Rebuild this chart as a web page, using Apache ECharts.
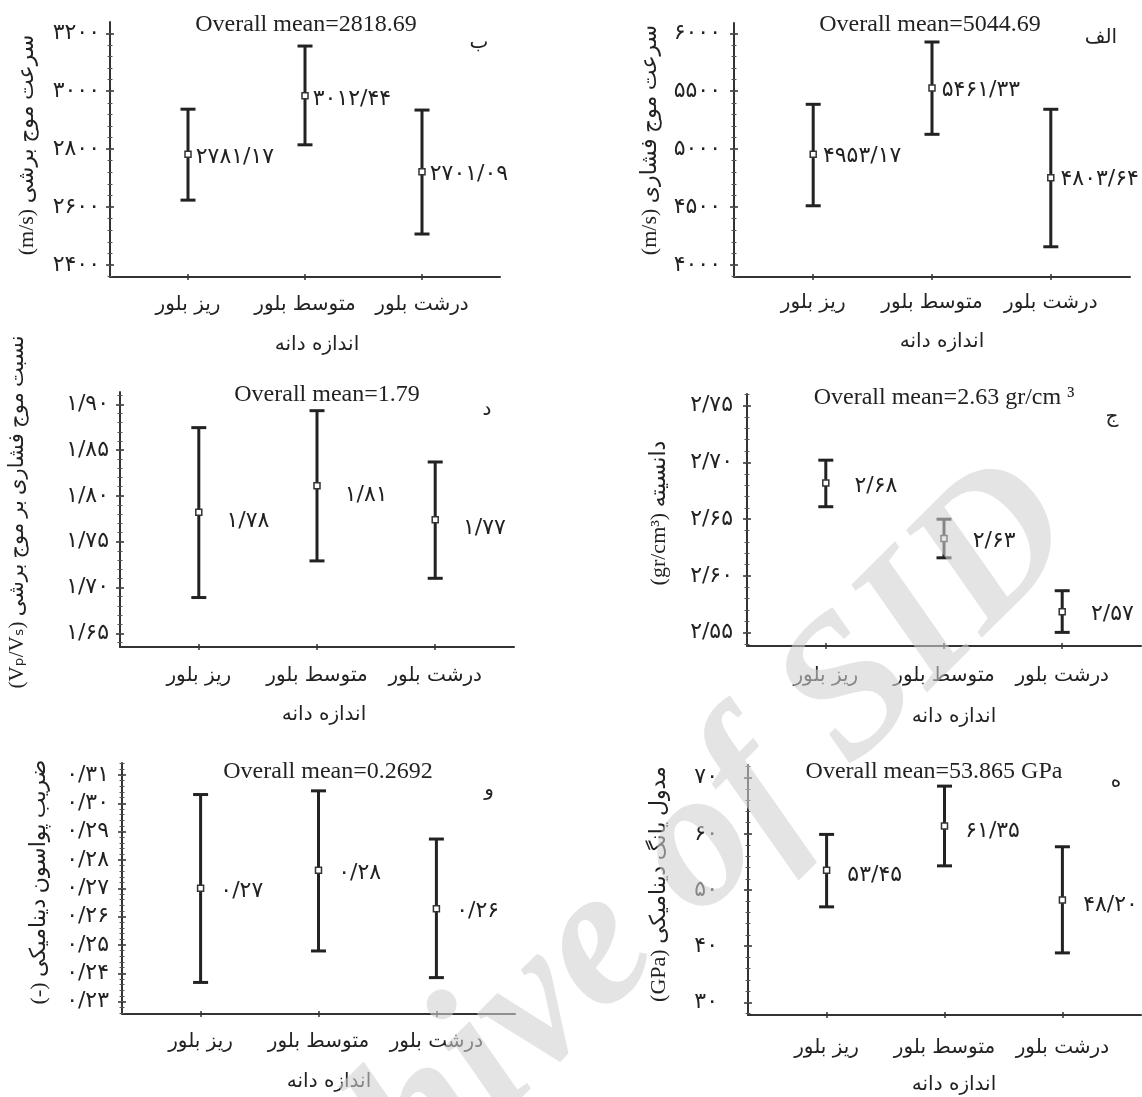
<!DOCTYPE html>
<html>
<head>
<meta charset="utf-8">
<title>Grain size vs. physical properties</title>
<script src="https://cdn.jsdelivr.net/npm/echarts@6/dist/echarts.min.js"></script>
<style>
html, body { margin: 0; padding: 0; background: #fff; }
#chart { width: 1142px; height: 1097px; }
</style>
</head>
<body>
<div id="chart"></div>
<script>
// categories (left to right) and their spots on the 0..10 x scale
const categories = ['ریز بلور', 'متوسط بلور', 'درشت بلور']
const xPos = [2, 5, 8]

// الف - P-wave velocity (m/s)
const vpMean = [4955, 5528, 4753]
const vpLow = [4511, 5128, 4157]
const vpHigh = [5387, 5925, 5344]
const vpLabels = ['۴۹۵۳/۱۷', '۵۴۶۱/۳۳', '۴۸۰۳/۶۴']
const vpTicks = [4000, 4500, 5000, 5500, 6000]

// ب - S-wave velocity (m/s)
const vsMean = [2782, 2984, 2722]
const vsLow = [2624, 2815, 2507]
const vsHigh = [2938, 3156, 2935]
const vsLabels = ['۲۷۸۱/۱۷', '۳۰۱۲/۴۴', '۲۷۰۱/۰۹']
const vsTicks = [2400, 2600, 2800, 3000, 3200]

// ج - density (gr/cm3)
const rhoMean = [2.682, 2.633, 2.5685]
const rhoLow = [2.661, 2.616, 2.5503]
const rhoHigh = [2.702, 2.650, 2.587]
const rhoLabels = ['۲/۶۸', '۲/۶۳', '۲/۵۷']
const rhoTicks = [2.55, 2.60, 2.65, 2.70, 2.75]

// د - Vp/Vs ratio
const ratioMean = [1.782, 1.811, 1.774]
const ratioLow = [1.689, 1.729, 1.710]
const ratioHigh = [1.8745, 1.893, 1.837]
const ratioLabels = ['۱/۷۸', '۱/۸۱', '۱/۷۷']
const ratioTicks = [1.65, 1.70, 1.75, 1.80, 1.85, 1.90]

// ه - dynamic Young modulus (GPa)
const youngMean = [53.5, 61.4, 48.2]
const youngLow = [47.0, 54.3, 38.8]
const youngHigh = [59.9, 68.5, 57.7]
const youngLabels = ['۵۳/۴۵', '۶۱/۳۵', '۴۸/۲۰']
const youngTicks = [30, 40, 50, 60, 70]

// و - dynamic Poisson ratio (-)
const poissonMean = [0.270, 0.2764, 0.2628]
const poissonLow = [0.2368, 0.2479, 0.2385]
const poissonHigh = [0.3031, 0.3044, 0.2874]
const poissonLabels = ['۰/۲۷', '۰/۲۸', '۰/۲۶']
const poissonTicks = [0.23, 0.24, 0.25, 0.26, 0.27, 0.28, 0.29, 0.30, 0.31]

const INK = '#222'
const AXIS = '#333'
const FA = '"DejaVu Sans"'
const SERIF = '"Liberation Serif", "DejaVu Sans"'

const panels = [
  {
    grid: { left: 110, top: 22, width: 390, height: 255 },
    min: 2358.6, max: 3239, ticks: vsTicks, dec: 0, labelMargin: 10, catMargin: 18,
    mean: vsMean, low: vsLow, high: vsHigh, labels: vsLabels, gap: 4, dy: 3,
    yTitle: '(m/s) سرعت موج برشی', yTitlePos: [27, 145],
    xTitlePos: [317, 345], mean_text: 'Overall mean=2818.69', meanPos: [306, 25],
    letter: 'ب', letterPos: [479, 43],
  },
  {
    grid: { left: 734, top: 23, width: 396, height: 254 },
    min: 3896, max: 6089, ticks: vpTicks, dec: 0, labelMargin: 13, catMargin: 16,
    mean: vpMean, low: vpLow, high: vpHigh, labels: vpLabels, gap: 6, dy: 2,
    yTitle: '(m/s) سرعت موج فشاری', yTitlePos: [650, 140],
    xTitlePos: [942, 342], mean_text: 'Overall mean=5044.69', meanPos: [930, 25],
    letter: 'الف', letterPos: [1101, 38],
  },
  {
    grid: { left: 120, top: 392, width: 394, height: 255 },
    min: 1.635, max: 1.9134, ticks: ratioTicks, dec: 2, labelMargin: 11, catMargin: 19,
    mean: ratioMean, low: ratioLow, high: ratioHigh, labels: ratioLabels, gap: 24, dy: 9,
    yTitle: '(Vₚ/Vₛ) نسبت موج فشاری بر موج برشی', yTitlePos: [17, 512], yTitleSize: 21,
    xTitlePos: [324, 715], mean_text: 'Overall mean=1.79', meanPos: [327, 395],
    letter: 'د', letterPos: [487, 410],
  },
  {
    grid: { left: 747, top: 394, width: 394, height: 252 },
    min: 2.5383, max: 2.7603, ticks: rhoTicks, dec: 2, labelMargin: 14, catMargin: 20,
    mean: rhoMean, low: rhoLow, high: rhoHigh, labels: rhoLabels, gap: 25, dy: 3,
    yTitle: '(gr/cm³) دانسیته', yTitlePos: [659, 513],
    xTitlePos: [954, 717], mean_text: 'Overall mean=2.63 gr/cm ³', meanPos: [944, 398],
    letter: 'ج', letterPos: [1112, 417],
  },
  {
    grid: { left: 122, top: 763, width: 393, height: 251 },
    min: 0.22566, max: 0.31423, ticks: poissonTicks, dec: 2, labelMargin: 13, catMargin: 18,
    mean: poissonMean, low: poissonLow, high: poissonHigh, labels: poissonLabels, gap: 16, dy: 3,
    yTitle: '(-) ضریب پواسون دینامیکی', yTitlePos: [39, 882],
    xTitlePos: [329, 1082], mean_text: 'Overall mean=0.2692', meanPos: [328, 772],
    letter: 'و', letterPos: [489, 790],
  },
  {
    grid: { left: 748, top: 765, width: 393, height: 250 },
    min: 27.74, max: 72.26, ticks: youngTicks, dec: 0, labelMargin: 30, catMargin: 23,
    mean: youngMean, low: youngLow, high: youngHigh, labels: youngLabels, gap: 17, dy: 5,
    yTitle: '(GPa) مدول یانگ دینامیکی', yTitlePos: [659, 884],
    xTitlePos: [954, 1085], mean_text: 'Overall mean=53.865 GPa', meanPos: [934, 772],
    letter: 'ه', letterPos: [1116, 782],
  },
]

function toFa(v, dec) {
  return v.toFixed(dec).replace('.', '/').replace(/\d/g, d => '۰۱۲۳۴۵۶۷۸۹'[d])
}

// four minor ticks between the labelled ones, filled over the whole axis range
function minorTicks(ticks, min, max) {
  const step = (ticks[1] - ticks[0]) / 5
  const out = []
  for (let k = -10; k <= (ticks.length - 1) * 5 + 10; k++) {
    const v = ticks[0] + k * step
    if (v >= min - 1e-9 && v <= max + 1e-9) out.push(+v.toFixed(6))
  }
  return out
}

function renderErrorBar(params, api) {
  const x = api.value(0)
  const top = api.coord([x, api.value(2)])
  const bot = api.coord([x, api.value(1)])
  const half = 7.5
  const style = { stroke: INK, lineWidth: 3 }
  return {
    type: 'group',
    children: [
      { type: 'line', shape: { x1: top[0], y1: top[1], x2: bot[0], y2: bot[1] }, style },
      { type: 'line', shape: { x1: top[0] - half, y1: top[1], x2: top[0] + half, y2: top[1] }, style },
      { type: 'line', shape: { x1: bot[0] - half, y1: bot[1], x2: bot[0] + half, y2: bot[1] }, style },
    ],
  }
}

const grids = []
const xAxes = []
const yAxes = []
const series = []
const graphics = []

panels.forEach((p, i) => {
  grids.push(p.grid)
  const minors = minorTicks(p.ticks, p.min, p.max)

  const xBase = {
    gridIndex: i, type: 'value', min: 0, max: 10, position: 'bottom',
    splitLine: { show: false },
  }
  xAxes.push(Object.assign({}, xBase, {
    axisLine: { show: true, onZero: false, lineStyle: { color: AXIS, width: 2 } },
    axisTick: { show: true, customValues: xPos, length: 3, lineStyle: { color: AXIS, width: 1.5 } },
    axisLabel: {
      customValues: xPos,
      formatter: v => categories[xPos.indexOf(v)],
      margin: p.catMargin, fontFamily: FA, fontSize: 20, color: INK,
    },
  }))
  xAxes.push(Object.assign({}, xBase, {
    axisLine: { show: false, onZero: false },
    axisTick: { show: true, inside: true, customValues: xPos, length: 3, lineStyle: { color: AXIS, width: 1.5 } },
    axisLabel: { show: false },
  }))

  const yBase = {
    gridIndex: i, type: 'value', min: p.min, max: p.max, position: 'left',
    splitLine: { show: false },
  }
  yAxes.push(Object.assign({}, yBase, {
    axisLine: { show: true, onZero: false, lineStyle: { color: AXIS, width: 2 } },
    axisTick: { show: true, customValues: p.ticks, length: 4, lineStyle: { color: AXIS, width: 1.5 } },
    axisLabel: {
      customValues: p.ticks,
      formatter: v => toFa(v, p.dec),
      margin: p.labelMargin, fontFamily: FA, fontSize: 22, color: INK,
    },
  }))
  yAxes.push(Object.assign({}, yBase, {
    axisLine: { show: false, onZero: false },
    axisTick: { show: true, inside: true, customValues: p.ticks, length: 4, lineStyle: { color: AXIS, width: 1.5 } },
    axisLabel: { show: false },
  }))
  yAxes.push(Object.assign({}, yBase, {
    axisLine: { show: false, onZero: false },
    axisTick: { show: true, customValues: minors, length: 2.5, lineStyle: { color: '#555', width: 1 } },
    axisLabel: { show: false },
  }))
  yAxes.push(Object.assign({}, yBase, {
    axisLine: { show: false, onZero: false },
    axisTick: { show: true, inside: true, customValues: minors, length: 2.5, lineStyle: { color: '#555', width: 1 } },
    axisLabel: { show: false },
  }))

  series.push({
    type: 'custom',
    xAxisIndex: i * 2,
    yAxisIndex: i * 4,
    renderItem: renderErrorBar,
    encode: { x: 0, y: [1, 2] },
    data: xPos.map((x, k) => [x, p.low[k], p.high[k]]),
    silent: true,
    z: 2,
  })
  series.push({
    type: 'scatter',
    xAxisIndex: i * 2,
    yAxisIndex: i * 4,
    symbol: 'rect',
    symbolSize: 6,
    itemStyle: { color: '#fff', borderColor: AXIS, borderWidth: 1.5, opacity: 1 },
    label: {
      show: true,
      position: 'right',
      distance: p.gap,
      offset: [0, p.dy],
      formatter: params => p.labels[params.dataIndex],
      fontFamily: FA, fontSize: 22, color: INK,
    },
    data: xPos.map((x, k) => [x, p.mean[k]]),
    silent: true,
    z: 3,
  })

  graphics.push({
    type: 'text', x: p.yTitlePos[0], y: p.yTitlePos[1], rotation: Math.PI / 2,
    style: {
      text: p.yTitle, font: (p.yTitleSize || 22) + 'px ' + SERIF,
      fill: INK, align: 'center', verticalAlign: 'middle',
    },
  })
  graphics.push({
    type: 'text', x: p.xTitlePos[0], y: p.xTitlePos[1],
    style: { text: 'اندازه دانه', font: '20px ' + FA, fill: INK, align: 'center', verticalAlign: 'middle' },
  })
  graphics.push({
    type: 'text', x: p.meanPos[0], y: p.meanPos[1],
    style: { text: p.mean_text, font: '24px ' + SERIF, fill: INK, align: 'center', verticalAlign: 'middle' },
  })
  graphics.push({
    type: 'text', x: p.letterPos[0], y: p.letterPos[1],
    style: { text: p.letter, font: '20px ' + FA, fill: INK, align: 'center', verticalAlign: 'middle' },
  })
})

// site watermark laid over the figure
graphics.push({
  type: 'text', x: 612, y: 935, rotation: Math.PI / 4, z: 100,
  style: {
    text: 'Archive of SID', font: 'italic bold 198px "Liberation Serif"',
    fill: 'rgba(208,208,208,0.58)', align: 'center', verticalAlign: 'middle',
  },
})

const chart = echarts.init(document.getElementById('chart'))
chart.setOption({
  animation: false,
  backgroundColor: '#fff',
  grid: grids,
  xAxis: xAxes,
  yAxis: yAxes,
  series: series,
  graphic: graphics,
})
</script>
</body>
</html>
